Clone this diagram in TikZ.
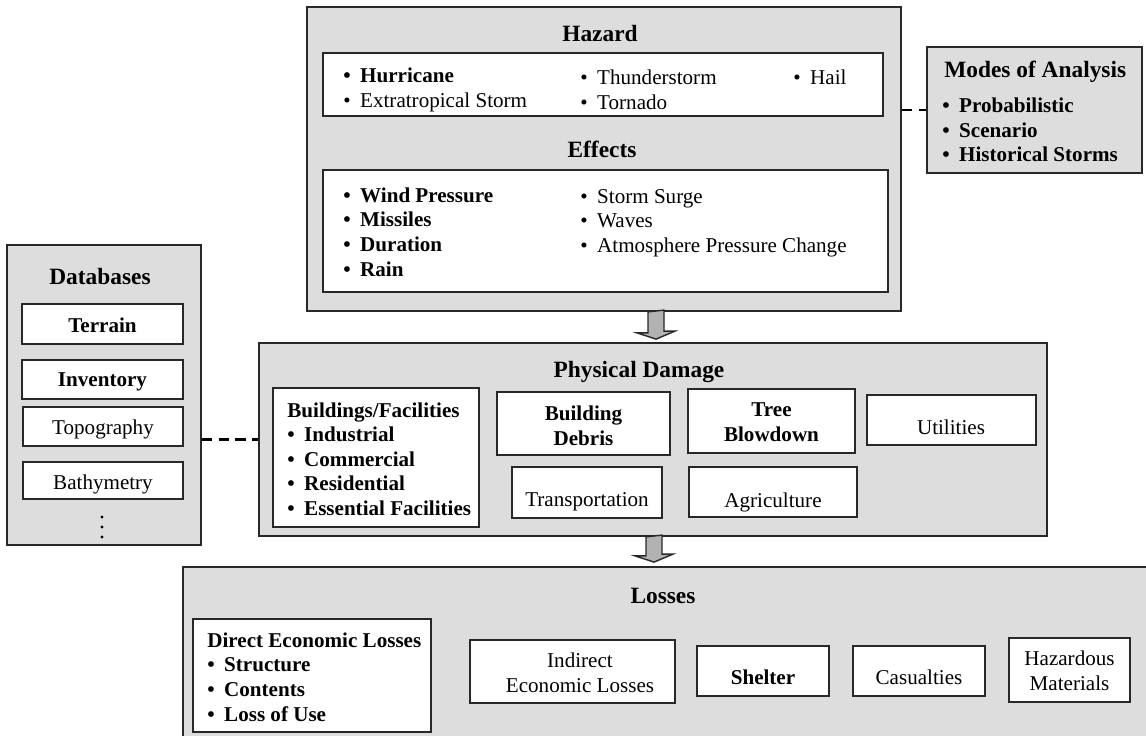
\documentclass[tikz,border=0pt]{standalone}
\usepackage{fontspec}
\setmainfont{Liberation Serif}
\usetikzlibrary{fit,calc}

\definecolor{panelgray}{RGB}{221,221,221}
\definecolor{linegray}{RGB}{40,40,40}
\definecolor{arrowgray}{RGB}{178,178,178}

\newcommand{\itemfont}{\fontsize{12}{14}\selectfont}
\newcommand{\titlefont}{\fontsize{13.3}{15}\selectfont\bfseries}
\newcommand{\bul}{\textbullet\hspace{0.45em}}

\begin{document}
\begin{tikzpicture}[x=0.02cm,y=-0.02cm,
   panel/.style={draw=linegray,line width=1pt,fill=panelgray,inner sep=0pt},
   cellbox/.style={draw=linegray,line width=0.8pt,fill=white,inner sep=0pt},
   ttl/.style={font=\titlefont,inner sep=0pt},
   txt/.style={font=\itemfont,inner sep=0pt,align=left,anchor=west},
   lbl/.style={font=\itemfont,inner sep=0pt,align=center},
   dashline/.style={line width=1.6pt,dash pattern=on 6pt off 3.5pt},
   blockarrow/.style={draw=linegray,line width=0.8pt,fill=arrowgray}]
   \useasboundingbox (0,0) rectangle (1146,736);
   \clip (0,0) rectangle (1146,736);

   % hazard and effects
   \node[panel,fit={(307,7) (901,311)}] (hazard) {};
   \node[ttl] (hazardtitle) at (600,34) {Hazard};
   \node[cellbox,fit={(323,53) (883,116)}] (hazardbox) {};
   \node[txt] (hz1) at (343,90) {\textbf{\bul Hurricane}\\\bul Extratropical Storm};
   \node[txt] (hz2) at (580,90) {\bul Thunderstorm\\\bul Tornado};
   \node[txt] (hz3) at (793,77) {\bul Hail};
   \node[ttl] (effectstitle) at (602,149) {Effects};
   \node[cellbox,fit={(323,170) (888,292)}] (effectsbox) {};
   \node[txt,font=\itemfont\bfseries] (ef1) at (343,232) {\bul Wind Pressure\\\bul Missiles\\\bul Duration\\\bul Rain};
   \node[txt] (ef2) at (580,223) {\bul Storm Surge\\\bul Waves\\\bul Atmosphere Pressure Change};

   % modes of analysis
   \node[panel,fit={(927,47) (1142,173)}] (modes) {};
   \node[ttl,anchor=west] (modestitle) at (944,72) {Modes of Analysis};
   \node[txt,font=\itemfont\bfseries] (modeslist) at (942,130) {\bul Probabilistic\\\bul Scenario\\\bul Historical Storms};

   % databases
   \node[panel,fit={(7,245) (201,545)}] (db) {};
   \node[ttl] (dbtitle) at (100,277) {Databases};
   \node[cellbox,fit={(22,304) (183,344)}] (terrain) {};
   \node[lbl,font=\itemfont\bfseries] (terraintext) at (102.5,325) {Terrain};
   \node[cellbox,fit={(22,360) (183,399)}] (inventory) {};
   \node[lbl,font=\itemfont\bfseries] (inventorytext) at (102.5,382) {Inventory};
   \node[cellbox,fit={(23,407) (183,446)}] (topo) {};
   \node[lbl] (topotext) at (103,429.5) {Topography};
   \node[cellbox,fit={(23,462) (183,499)}] (bathy) {};
   \node[lbl] (bathytext) at (103,484) {Bathymetry};
   \foreach \dy in {517,527,537}
      \fill (102,\dy) circle (0.9pt);

   % physical damage
   \node[panel,fit={(259,343) (1047,536)}] (phys) {};
   \node[ttl] (phystitle) at (639,372) {Physical Damage};
   \node[cellbox,fit={(273,388) (479,527)}] (bldg) {};
   \node[txt,font=\itemfont\bfseries] (bldglist) at (287,459) {Buildings/Facilities\\\bul Industrial\\\bul Commercial\\\bul Residential\\\bul Essential Facilities};
   \node[cellbox,fit={(497,392) (670,455)}] (debris) {};
   \node[lbl,font=\itemfont\bfseries] (debristext) at (583.5,426) {Building\\Debris};
   \node[cellbox,fit={(688,389) (855,453)}] (tree) {};
   \node[lbl,font=\itemfont\bfseries] (treetext) at (771.5,422) {Tree\\Blowdown};
   \node[cellbox,fit={(867,395) (1036,445)}] (util) {};
   \node[lbl] (utiltext) at (951,427) {Utilities};
   \node[cellbox,fit={(512,467) (662,518)}] (transp) {};
   \node[lbl] (transptext) at (587,502) {Transportation};
   \node[cellbox,fit={(689,467) (857,517)}] (agri) {};
   \node[lbl] (agritext) at (773,502) {Agriculture};

   % losses
   \node[panel,fit={(183,567) (1170,760)}] (loss) {};
   \node[ttl] (losstitle) at (663,596) {Losses};
   \node[cellbox,fit={(193,619) (431,732)}] (direct) {};
   \node[txt,font=\itemfont\bfseries] (directlist) at (207,677) {Direct Economic Losses\\\bul Structure\\\bul Contents\\\bul Loss of Use};
   \node[cellbox,fit={(470,640) (675,703)}] (indirect) {};
   \node[lbl] (indirecttext) at (580,672.5) {Indirect\\Economic Losses};
   \node[cellbox,fit={(697,646) (829,696)}] (shelter) {};
   \node[lbl,font=\itemfont\bfseries] (sheltertext) at (763,677) {Shelter};
   \node[cellbox,fit={(853,646) (985,696)}] (casual) {};
   \node[lbl] (casualtext) at (919,677) {Casualties};
   \node[cellbox,fit={(1009,638) (1130,702)}] (hazmat) {};
   \node[lbl] (hazmattext) at (1069.5,671) {Hazardous\\Materials};

   % links
   \draw[dashline] (modes.west -| hazard.east) -- (modes.west);
   \draw[dashline] (phys.west -| db.east) -- (phys.west);
   \coordinate (ax1) at (656,0);
   \coordinate (ax2) at (654,0);
   \draw[blockarrow] (hazard.south -| ax1) ++(-8,0) -- ++(0,21) -- ++(-11,0)
      -- ($(phys.north -| ax1)+(0,-3)$) -- ++(19,-8) -- ++(-11,0) -- ++(0,-21) -- cycle;
   \draw[blockarrow] (phys.south -| ax2) ++(-8,0) -- ++(0,19) -- ++(-11,0)
      -- ($(loss.north -| ax2)+(0,-4)$) -- ++(19,-8) -- ++(-11,0) -- ++(0,-19) -- cycle;
\end{tikzpicture}
\end{document}
